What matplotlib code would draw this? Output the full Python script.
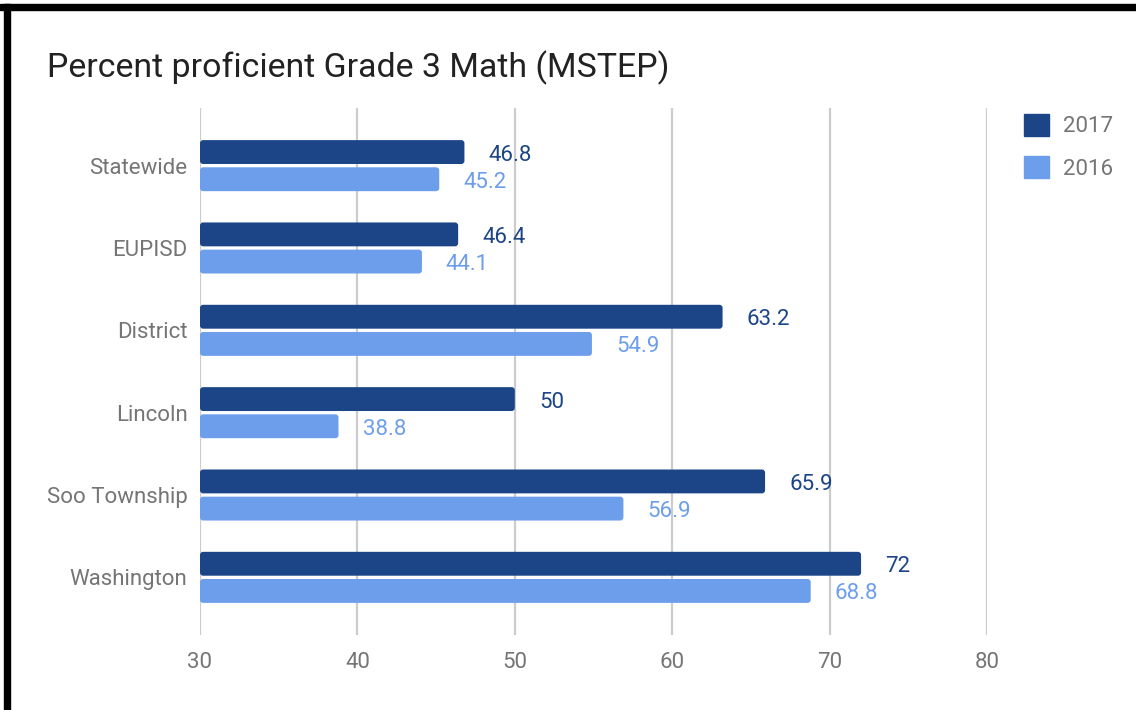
import matplotlib.pyplot as plt
import numpy as np
from matplotlib.patches import FancyBboxPatch, Rectangle

plt.rcParams['font.family'] = ['Roboto', 'DejaVu Sans']

# data
schools = ['Statewide', 'EUPISD', 'District', 'Lincoln', 'Soo Township', 'Washington']
pct_2017 = [46.8, 46.4, 63.2, 50, 65.9, 72]
pct_2016 = [45.2, 44.1, 54.9, 38.8, 56.9, 68.8]
x_ticks = [30, 40, 50, 60, 70, 80]

dark = '#1c4587'
light = '#6d9eeb'
grey = '#757575'

fig = plt.figure(figsize=(11.36, 7.1), dpi=100)
ax = fig.add_axes([200 / 1136, 1 - 635 / 710, 787 / 1136, 527 / 710])

y = np.arange(len(schools))
h = 0.29
base = 30
b17 = ax.barh(y - 0.165, np.array(pct_2017) - base, left=base, height=h, color=dark, label='2017', zorder=3)
b16 = ax.barh(y + 0.165, np.array(pct_2016) - base, left=base, height=h, color=light, label='2016', zorder=3)

ax.set_xlim(30, 80)
ax.set_ylim(len(schools) - 0.3, -0.7)

# swap plain bars for slightly rounded ones
aspect = (787 / 50) / (527 / 6.4)
for bars in (b17, b16):
    for p in bars:
        x0, y0 = p.get_x(), p.get_y()
        w, hh = p.get_width(), p.get_height()
        r = 0.2
        fb = FancyBboxPatch((x0 + r, y0 + r * aspect), w - 2 * r, hh - 2 * r * aspect,
                            boxstyle=f'round,pad={r},rounding_size={r}',
                            mutation_aspect=aspect, facecolor=p.get_facecolor(),
                            edgecolor='none', zorder=3)
        ax.add_patch(fb)
        p.set_visible(False)

# value labels (sit a little below the bar centre)
for i in range(len(schools)):
    ax.annotate(f'{pct_2017[i]:g}', (pct_2017[i], y[i] - 0.165), xytext=(24, -3),
                textcoords='offset pixels', va='center', ha='left', fontsize=16, color=dark)
    ax.annotate(f'{pct_2016[i]:g}', (pct_2016[i], y[i] + 0.165), xytext=(24, -3),
                textcoords='offset pixels', va='center', ha='left', fontsize=16, color=light)

ax.set_yticks(y)
ax.set_yticklabels(schools, fontsize=16, color=grey)
ax.set_xticks(x_ticks)
ax.set_xticklabels([str(t) for t in x_ticks], fontsize=16, color=grey)
ax.tick_params(axis='y', length=0, pad=9)
ax.tick_params(axis='x', length=0, pad=12)
ax.grid(axis='x', color='#cccccc', linewidth=1.6, zorder=0)
for s in ax.spines.values():
    s.set_visible(False)

# legend
leg = ax.legend(handles=[Rectangle((0, 0), 1, 1, color=dark), Rectangle((0, 0), 1, 1, color=light)],
                labels=['2017', '2016'], loc='upper left', bbox_to_anchor=(1.036, 1.005),
                frameon=False, fontsize=16, handlelength=1.1, handleheight=1.1,
                labelspacing=0.85, handletextpad=0.65, borderaxespad=0)
for t in leg.get_texts():
    t.set_color(grey)

fig.text(47 / 1136, 1 - 77 / 710, 'Percent proficient Grade 3 Math (MSTEP)',
         fontsize=24.4, color='#222222', va='baseline', ha='left')

# black frame on top and left
fig.patches.append(Rectangle((0, 1 - 10 / 710), 1, 6 / 710, transform=fig.transFigure,
                             color='black', zorder=10))
fig.patches.append(Rectangle((4 / 1136, 0), 6 / 1136, 1 - 4 / 710, transform=fig.transFigure,
                             color='black', zorder=10))

fig.savefig('out.png', dpi=100)
